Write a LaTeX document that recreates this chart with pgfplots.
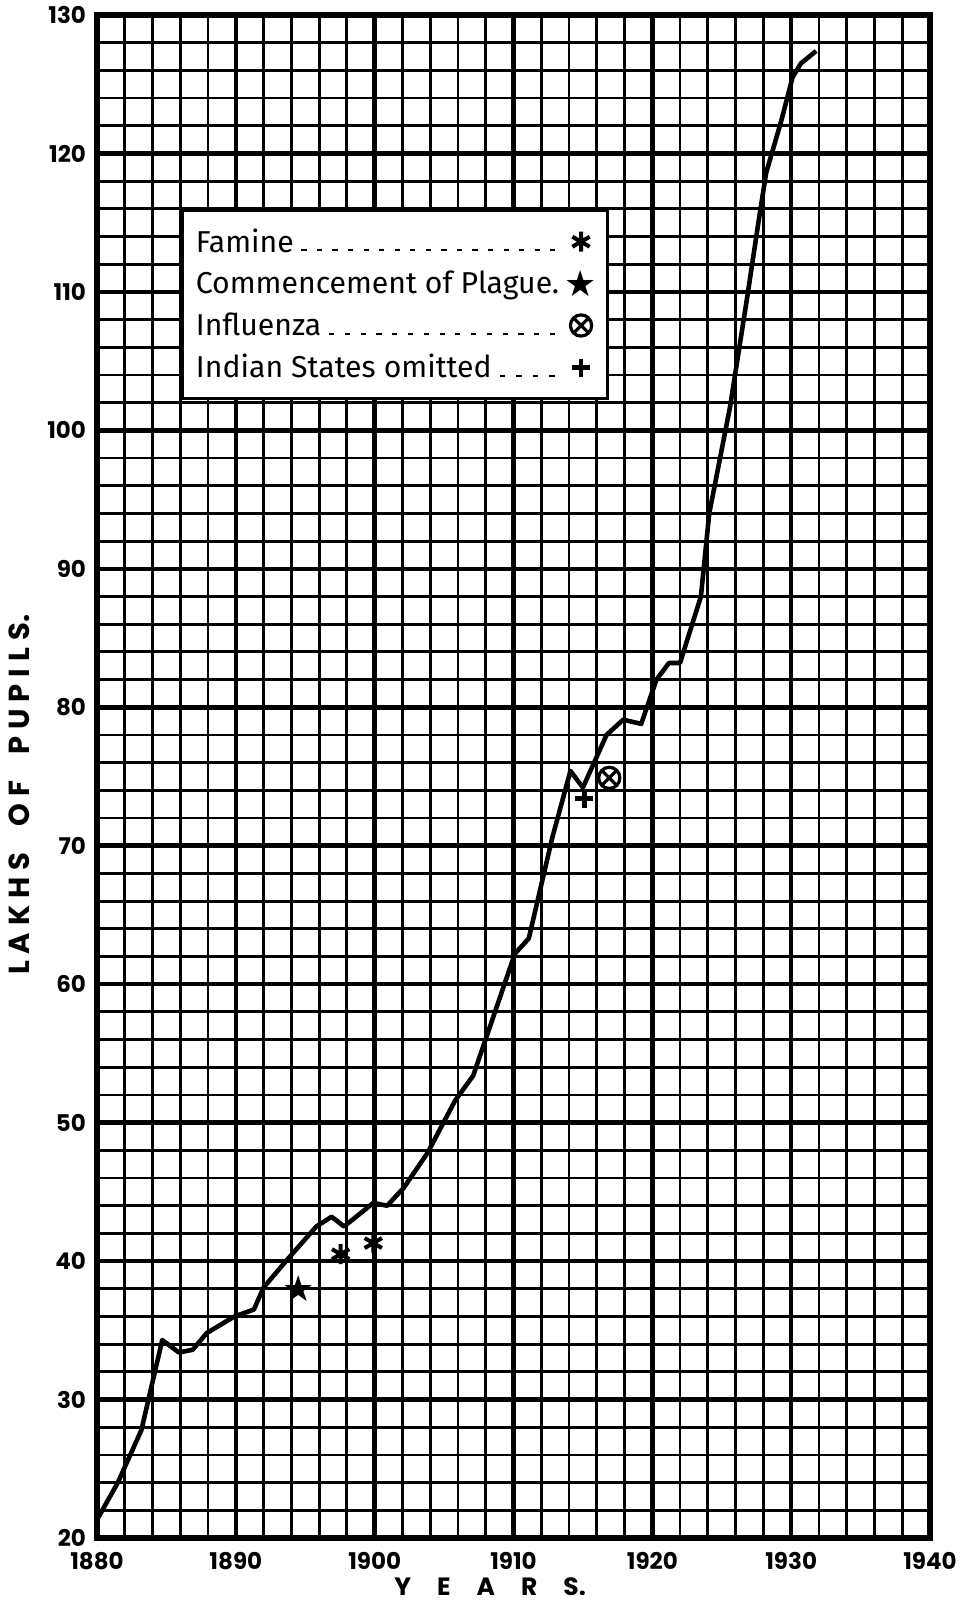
\documentclass[border=0pt]{standalone}
\usepackage{fontspec}
\setmainfont{Fira Sans}
\newfontfamily\tickfont{Poppins}
\newfontfamily\symfont{DejaVu Sans}
\usepackage{pgfplots}
\pgfplotsset{compat=1.18}
\usetikzlibrary{plotmarks}

\newcommand\dashfill{\xleaders\hbox to 7.5pt{\hss\rule[0.3pt]{2.6pt}{1.1pt}\hss}\hfill}
\newcommand\legentry[1]{\makebox[182.5pt][l]{#1\hspace{1pt}\dashfill}}
\newcommand\legfont{\fontsize{15.1}{17}\selectfont}

\begin{document}
\begin{tikzpicture}
\begin{axis}[
  scale only axis, width=416.5pt, height=761.5pt,
  xmin=1880, xmax=1940, ymin=20, ymax=130,
  xtick={1880,1890,...,1940}, ytick={20,30,...,130},
  minor x tick num=4, minor y tick num=4,
  grid=both,
  major grid style={line width=2.3pt, black},
  minor grid style={line width=1.4pt, black},
  major tick length=0pt, minor tick length=0pt,
  axis line style={line width=2.6pt},
  /pgf/number format/assume math mode=true,
  /pgf/number format/1000 sep={},
  ticklabel style={font=\tickfont\bfseries\fontsize{11.5}{12}\selectfont},
  xticklabel style={yshift=-3.5pt},
  yticklabel style={xshift=-2pt},
  xlabel={Y\hspace{13pt}E\hspace{13pt}A\hspace{13pt}R\hspace{13pt}S.},
  xlabel style={at={(axis description cs:0.472,-0.032)}, anchor=center, font=\tickfont\bfseries\fontsize{12.5}{13}\selectfont},
  ylabel={L\hspace{3.5pt}A\hspace{3.5pt}K\hspace{3.5pt}H\hspace{3.5pt}S\hspace{13pt}O\hspace{3.5pt}F\hspace{13pt}P\hspace{3.5pt}U\hspace{3.5pt}P\hspace{3.5pt}I\hspace{3.5pt}L\hspace{3.5pt}S.},
  ylabel style={at={(axis description cs:-0.093,0.488)}, anchor=center, font=\tickfont\bfseries\fontsize{14.5}{15}\selectfont},
  legend plot pos=right,
  legend image code/.code={\draw[#1] plot coordinates {(6pt,0pt)};},
  legend style={at={(0.1,0.8727)}, anchor=north west, draw=black, line width=1.6pt, fill=white,
    inner xsep=5pt, inner ysep=7pt, row sep=4pt, font=\legfont, cells={anchor=west}},
]
\addplot[line width=2.3pt, black, line join=round, forget plot] coordinates {
(1880.1,21.5) (1881.5,24.0) (1883.2,27.8) (1884.7,34.3) (1885.9,33.4) (1886.9,33.6)
(1887.9,34.8) (1889.9,36.0) (1891.3,36.5) (1892.0,38.1) (1893.7,40.1) (1895.8,42.5)
(1896.9,43.2) (1897.8,42.5) (1899.9,44.2) (1900.9,44.0) (1902.1,45.3) (1903.8,47.8)
(1905.8,51.6) (1907.1,53.4) (1910.1,62.2) (1911.1,63.3) (1912.8,70.6) (1914.1,75.4)
(1915.0,74.2) (1916.7,78.0) (1917.9,79.1) (1919.2,78.8) (1920.3,82.0) (1921.2,83.2)
(1922.0,83.2) (1922.4,84.5) (1923.5,88.0) (1924.1,94.0) (1925.6,101.7) (1926.8,109.4)
(1927.7,115.4) (1928.2,118.6) (1929.3,122.4) (1930.1,125.5) (1930.7,126.5) (1931.8,127.4)
};
\addplot[only marks, mark=asterisk, mark size=5pt, mark options={line width=2pt, black}] coordinates {(1897.55,40.5) (1899.9,41.3)};
\addlegendentry{\legentry{Famine}}
\addplot[only marks, mark=text, text mark={\symfont\fontsize{18}{18}\selectfont ★}, black] coordinates {(1894.5,38.05)};
\addlegendentry{\legentry{Commencement of Plague.}}
\addplot[only marks, mark=otimes, mark size=5.3pt, mark options={line width=1.6pt, black}] coordinates {(1916.9,74.9)};
\addlegendentry{\legentry{Influenza}}
\addplot[only marks, mark=+, mark size=4.5pt, mark options={line width=2.3pt, black}] coordinates {(1915.1,73.4)};
\addlegendentry{\legentry{Indian States omitted}}
\end{axis}
\pgfresetboundingbox
\path (current axis.south west) ++(-48.5pt,-36.5pt) coordinate (bbA);
\path (current axis.north east) ++(18.5pt,7.5pt) coordinate (bbB);
\path (bbA) rectangle (bbB);
\end{tikzpicture}
\end{document}
